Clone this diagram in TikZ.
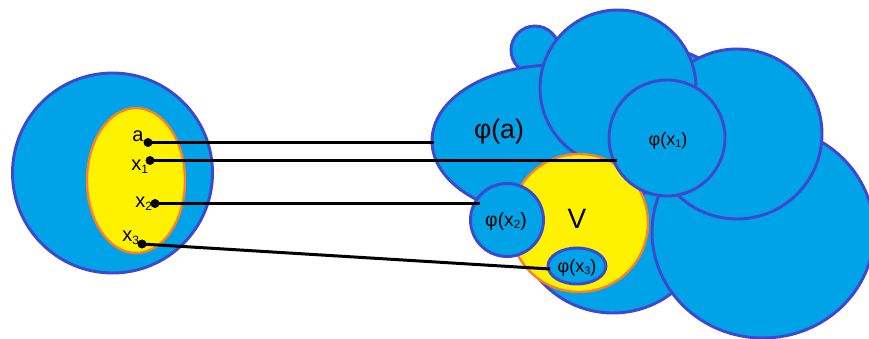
\documentclass[tikz,border=0pt]{standalone}
\usepackage{fontspec}
\setmainfont{Liberation Sans}
\usepackage{graphicx}
\definecolor{fillblue}{RGB}{0,162,232}
\definecolor{edgeblue}{RGB}{63,72,204}
\definecolor{yel}{RGB}{255,242,0}
\definecolor{orng}{RGB}{255,127,39}
\newcommand\sbx[1]{\raisebox{-0.15em}{\scalebox{0.6}{#1}}}
\begin{document}
\begin{tikzpicture}[x=0.75pt,y=0.75pt,yscale=-1,
  blob/.style={fill=fillblue,draw=edgeblue,line width=2.2pt},
  yset/.style={fill=yel,draw=orng,line width=1.8pt},
  conn/.style={line width=2.25pt,draw=black},
  dotn/.style={circle,fill=black,inner sep=0pt,minimum size=6.5pt},
  lbl/.style={inner sep=0pt,font=\fontsize{15}{18}\selectfont,anchor=base west},
  big/.style={inner sep=0pt,anchor=base,font=\fontsize{20}{24}\selectfont},
  small/.style={inner sep=0pt,anchor=base,font=\fontsize{13.5}{16}\selectfont}]
\useasboundingbox (0,0) rectangle (869,339);
\clip (0,0) rectangle (869,339);
% domain
\draw[blob] (112.5,173) circle[radius=100];
\draw[yset] (136,180.5) ellipse[x radius=49,y radius=72.5];
% image cluster
\draw[blob] (650,150) circle[radius=104];
\draw[blob] (535,50) circle[radius=24];
\draw[blob] (613,216) circle[radius=97];
\draw[blob] (555,141) ellipse[x radius=123,y radius=76];
\draw[blob] (763,232) ellipse[x radius=111,y radius=106];
\draw[blob] (737,134) circle[radius=85];
\draw[blob] (618,88) circle[radius=78];
\draw[yset] (579,223) circle[radius=69];
\draw[blob] (667,138) circle[radius=58];
\draw[blob] (507,220) circle[radius=36.5];
\draw[blob] (577,266) ellipse[x radius=29,y radius=18];
% labels
\node[big] (tphia) at (499,138) {φ(a)};
\node[big,font=\fontsize{21}{24}\selectfont] (tv) at (577,228) {V};
\node[small] (tphix1) at (668,145) {φ(x\sbx{1})};
\node[small,font=\fontsize{14.5}{17}\selectfont] (tphix2) at (506,226) {φ(x\sbx{2})};
\node[small] (tphix3) at (577,272) {φ(x\sbx{3})};
\node[lbl] (la) at (132,141) {a};
\node[lbl] (lx1) at (131,170) {x\sbx{1}};
\node[lbl] (lx2) at (135,207) {x\sbx{2}};
\node[lbl] (lx3) at (122,241) {x\sbx{3}};
% connectors
\coordinate (ea) at (434,142.5);
\coordinate (ex1) at (617,160.5);
\coordinate (ex2) at (480,203.5);
\coordinate (ex3) at (550,269);
\node[dotn] (da) at (148,142.5) {};
\node[dotn] (dx1) at (150,160.5) {};
\node[dotn] (dx2) at (155,203.5) {};
\node[dotn] (dx3) at (142,244) {};
\draw[conn] (da.center) -- (ea);
\draw[conn] (dx1.center) -- (ex1);
\draw[conn] (dx2.center) -- (ex2);
\draw[conn] (dx3.center) -- (ex3);
\node[dotn] at (da) {};
\node[dotn] at (dx1) {};
\node[dotn] at (dx2) {};
\node[dotn] at (dx3) {};
\end{tikzpicture}
\end{document}
